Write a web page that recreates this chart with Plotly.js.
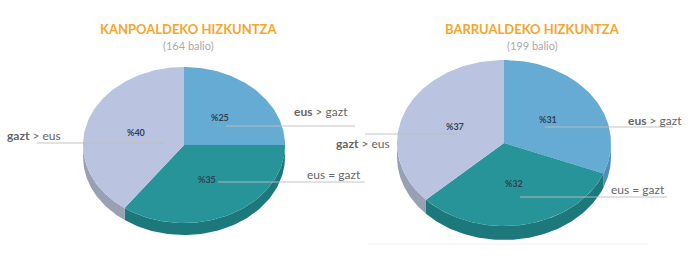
<!DOCTYPE html>
<html>
<head>
<meta charset="utf-8">
<script src="https://cdn.plot.ly/plotly-3.0.1.min.js"></script>
<style>html,body{margin:0;padding:0;background:#fff;}#chart{width:700px;height:257px;}</style>
</head>
<body>
<div id="chart"></div>
<script>
// ---- data ----
const categories = ['eus > gazt', 'eus = gazt', 'gazt > eus'];
const labelHtml = ['<b>eus</b> > gazt', 'eus = gazt', '<b>gazt</b> > eus'];
const kanpoaldeko = [25, 35, 40];
const barrualdeko = [31, 32, 37];
const chartTitles = ['KANPOALDEKO HIZKUNTZA', 'BARRUALDEKO HIZKUNTZA'];
const valueCounts = [164, 199];

// ---- styles / layout constants ----
const faceColors = ['#66abd3', '#27949a', '#bac4e1'];
const sideColors = ['#4f8fb5', '#1d787c', '#9aa0b4'];
const pies = [
  {values: kanpoaldeko, cx: 184, cy: 145, rx: 101, ry: 78, depth: 12, titleX: 188,
   labels: [
     {tx: 292, ty: 111, ly: 126, lx0: 226, lx1: 355},
     {tx: 305, ty: 174, ly: 182, lx0: 218, lx1: 365},
     {tx: 5,   ty: 135, ly: 143, lx0: 37,  lx1: 165}
   ]},
  {values: barrualdeko, cx: 504, cy: 143, rx: 107, ry: 83, depth: 14, titleX: 532,
   labels: [
     {tx: 626, ty: 120, ly: 127, lx0: 545, lx1: 673},
     {tx: 609, ty: 189, ly: 197, lx0: 520, lx1: 667},
     {tx: 334, ty: 143, ly: 134, lx0: 365, lx1: 457}
   ]}
];

function pt(p, t, dy) {
  return [p.cx + p.rx * Math.sin(t), p.cy - p.ry * Math.cos(t) + (dy || 0)];
}

const sideTraces = [], faceTraces = [], lineTraces = [], annotations = [];

pies.forEach((p, pi) => {
  const total = p.values.reduce((a, b) => a + b, 0);
  let acc = 0;
  p.values.forEach((v, i) => {
    const a = acc / total * 2 * Math.PI;
    acc += v;
    const b = acc / total * 2 * Math.PI;
    const N = 80;
    // face
    const fx = [p.cx], fy = [p.cy];
    for (let k = 0; k <= N; k++) {
      const q = pt(p, a + (b - a) * k / N);
      fx.push(q[0]); fy.push(q[1]);
    }
    fx.push(p.cx); fy.push(p.cy);
    faceTraces.push({type: 'scatter', mode: 'lines', x: fx, y: fy, fill: 'toself',
      fillcolor: faceColors[i], line: {width: 0, color: faceColors[i]}, hoverinfo: 'skip'});
    // side (visible lower half)
    const s = Math.max(a, Math.PI / 2), e = Math.min(b, 3 * Math.PI / 2);
    if (s < e) {
      const sx = [], sy = [];
      for (let k = 0; k <= N; k++) {
        const q = pt(p, s + (e - s) * k / N);
        sx.push(q[0]); sy.push(q[1]);
      }
      for (let k = N; k >= 0; k--) {
        const q = pt(p, s + (e - s) * k / N, p.depth);
        sx.push(q[0]); sy.push(q[1]);
      }
      sideTraces.push({type: 'scatter', mode: 'lines', x: sx, y: sy, fill: 'toself',
        fillcolor: sideColors[i], line: {width: 0, color: sideColors[i]}, hoverinfo: 'skip'});
    }
    // percentage label
    const m = (a + b) / 2;
    const lp = [p.cx + 0.5 * p.rx * Math.sin(m), p.cy - 0.5 * p.ry * Math.cos(m)];
    annotations.push({x: lp[0], y: lp[1], xref: 'x', yref: 'y', text: '<b>%' + v + '</b>',
      showarrow: false, font: {family: 'Lato, sans-serif', size: 9, color: '#2e4352'},
      xanchor: 'center', yanchor: 'middle'});
    // leader line & category label
    const L = p.labels[i];
    lineTraces.push({type: 'scatter', mode: 'lines', x: [L.lx0, L.lx1], y: [L.ly, L.ly],
      line: {color: 'rgba(190,190,190,0.9)', width: 1}, hoverinfo: 'skip'});
    annotations.push({x: L.tx, y: L.ty, xref: 'x', yref: 'y', text: labelHtml[i],
      showarrow: false, font: {family: 'Lato, sans-serif', size: 12, color: '#666'},
      xanchor: 'left', yanchor: 'middle'});
  });
  annotations.push({x: p.titleX, y: 29, xref: 'x', yref: 'y', text: '<b>' + chartTitles[pi] + '</b>',
    showarrow: false, font: {family: 'Lato, sans-serif', size: 13, color: '#f6a62b'},
    xanchor: 'center', yanchor: 'middle'});
  annotations.push({x: p.titleX, y: 45, xref: 'x', yref: 'y', text: '(' + valueCounts[pi] + ' balio)',
    showarrow: false, font: {family: 'Lato, sans-serif', size: 11, color: '#aaaaaa'},
    xanchor: 'center', yanchor: 'middle'});
});

const layout = {
  width: 700, height: 257,
  margin: {l: 0, r: 0, t: 0, b: 0},
  paper_bgcolor: '#ffffff', plot_bgcolor: '#ffffff',
  showlegend: false,
  xaxis: {range: [0, 700], visible: false, fixedrange: true},
  yaxis: {range: [257, 0], visible: false, fixedrange: true},
  annotations: annotations,
  shapes: [{type: 'line', xref: 'x', yref: 'y', x0: 368, x1: 648, y0: 244, y1: 244,
    line: {color: '#eeeeee', width: 1}}]
};

Plotly.newPlot('chart', sideTraces.concat(faceTraces, lineTraces), layout,
  {displayModeBar: false, staticPlot: true});
</script>
</body>
</html>
